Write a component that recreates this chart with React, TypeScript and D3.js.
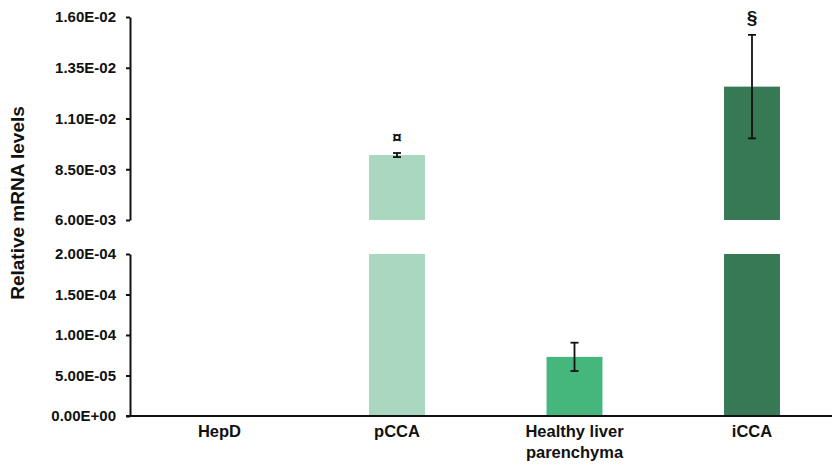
import React, { useEffect, useRef } from "react";
import { select, scaleBand, scaleLinear, axisLeft } from "d3";

// chart data
const categories = ["HepD", "pCCA", "Healthy liver parenchyma", "iCCA"];
const labelLines = [["HepD"], ["pCCA"], ["Healthy liver", "parenchyma"], ["iCCA"]];
const means = [0, 9.2e-3, 7.3e-5, 1.257e-2];
const errors = [0, 1.0e-4, 1.75e-5, 2.55e-3];
const marks = ["", "¤", "", "§"];
const barColors = ["#a9d7bf", "#a9d7bf", "#45b77c", "#377855"];

const upperTicks = [6.0e-3, 8.5e-3, 1.1e-2, 1.35e-2, 1.6e-2];
const lowerTicks = [0, 5.0e-5, 1.0e-4, 1.5e-4, 2.0e-4];

const font = "'Liberation Sans', Arial, sans-serif";

// 6.00E-03 style labels
const sci = (v: number) => {
  const [m, e] = v.toExponential(2).split("e");
  const n = parseInt(e, 10);
  return m + "E" + (n < 0 ? "-" : "+") + String(Math.abs(n)).padStart(2, "0");
};

export default function App() {
  const ref = useRef<SVGSVGElement>(null);
  const width = 832;
  const height = 465;

  useEffect(() => {
    const svg = select(ref.current);
    svg.selectAll("*").remove();

    const axisX = 130;
    const x = scaleBand<string>()
      .domain(categories)
      .range([130.75, 840.75])
      .paddingInner(0.685)
      .paddingOuter(0.3425);

    const yUp = scaleLinear().domain([6.0e-3, 1.6e-2]).range([220, 17]);
    const yLow = scaleLinear().domain([0, 2.0e-4]).range([416, 254]);
    const breakVal = yLow.domain()[1];
    const upBase = yUp.domain()[0];

    // bars
    categories.forEach((c, i) => {
      const v = means[i];
      if (v <= 0) return;
      const bx = x(c)!;
      const bw = x.bandwidth();
      const g = svg.append("g").attr("fill", barColors[i]);
      if (v > breakVal) {
        g.append("rect").attr("x", bx).attr("width", bw)
          .attr("y", yLow(breakVal)).attr("height", yLow(0) - yLow(breakVal));
        g.append("rect").attr("x", bx).attr("width", bw)
          .attr("y", yUp(v)).attr("height", yUp(upBase) - yUp(v));
      } else {
        g.append("rect").attr("x", bx).attr("width", bw)
          .attr("y", yLow(v)).attr("height", yLow(0) - yLow(v));
      }
    });

    // error bars
    categories.forEach((c, i) => {
      const v = means[i];
      const e = errors[i];
      if (e <= 0) return;
      const s = v > breakVal ? yUp : yLow;
      const cx = x(c)! + x.bandwidth() / 2;
      const g = svg.append("g").attr("stroke", "#111").attr("stroke-width", 1.8);
      g.append("line").attr("x1", cx).attr("x2", cx).attr("y1", s(v + e)).attr("y2", s(v - e));
      [v + e, v - e].forEach((t) => {
        g.append("line").attr("x1", cx - 4).attr("x2", cx + 4).attr("y1", s(t)).attr("y2", s(t));
      });
    });

    // significance marks
    categories.forEach((c, i) => {
      if (!marks[i]) return;
      const s = means[i] > breakVal ? yUp : yLow;
      const cx = x(c)! + x.bandwidth() / 2;
      const big = marks[i] === "§";
      svg.append("text")
        .attr("x", cx)
        .attr("y", s(means[i] + errors[i]) - (big ? 11 : 10.5))
        .attr("text-anchor", "middle")
        .attr("fill", "#111")
        .style("font-family", font)
        .style("font-weight", "bold")
        .style("font-size", big ? "19px" : "17px")
        .text(marks[i]);
    });

    // y axes
    const styleAxis = (g: any) => {
      g.select(".domain").attr("stroke", "#111").attr("stroke-width", 2);
      g.selectAll(".tick line").attr("stroke", "#111").attr("stroke-width", 2);
      g.selectAll(".tick text")
        .style("font-family", font)
        .style("font-weight", "bold")
        .style("font-size", "15px")
        .attr("fill", "#111");
    };
    svg.append("g")
      .attr("transform", `translate(${axisX},0)`)
      .call(axisLeft(yUp).tickValues(upperTicks).tickFormat((d: any) => sci(d)).tickSize(4).tickSizeOuter(0).tickPadding(10))
      .call(styleAxis);
    svg.append("g")
      .attr("transform", `translate(${axisX},0)`)
      .call(axisLeft(yLow).tickValues(lowerTicks).tickFormat((d: any) => sci(d)).tickSize(4).tickSizeOuter(0).tickPadding(10))
      .call(styleAxis);

    // x axis line
    svg.append("line")
      .attr("x1", axisX - 4).attr("x2", width)
      .attr("y1", yLow(0)).attr("y2", yLow(0))
      .attr("stroke", "#111").attr("stroke-width", 2);

    // category labels
    categories.forEach((c, i) => {
      const cx = x(c)! + x.bandwidth() / 2;
      const t = svg.append("text")
        .attr("text-anchor", "middle")
        .style("font-family", font)
        .style("font-weight", "bold")
        .style("font-size", "16.5px")
        .attr("fill", "#111");
      labelLines[i].forEach((l, k) => {
        t.append("tspan").attr("x", cx).attr("y", 437 + k * 20.5).text(l);
      });
    });

    // y title
    svg.append("text")
      .attr("transform", "translate(24,203) rotate(-90)")
      .attr("text-anchor", "middle")
      .style("font-family", font)
      .style("font-weight", "bold")
      .style("font-size", "19px")
      .attr("fill", "#111")
      .text("Relative mRNA levels");
  }, []);

  return (
    <div style={{ position: "absolute", left: 0, top: 0, width, height, background: "#fff" }}>
      <svg ref={ref} width={width} height={height} />
    </div>
  );
}
